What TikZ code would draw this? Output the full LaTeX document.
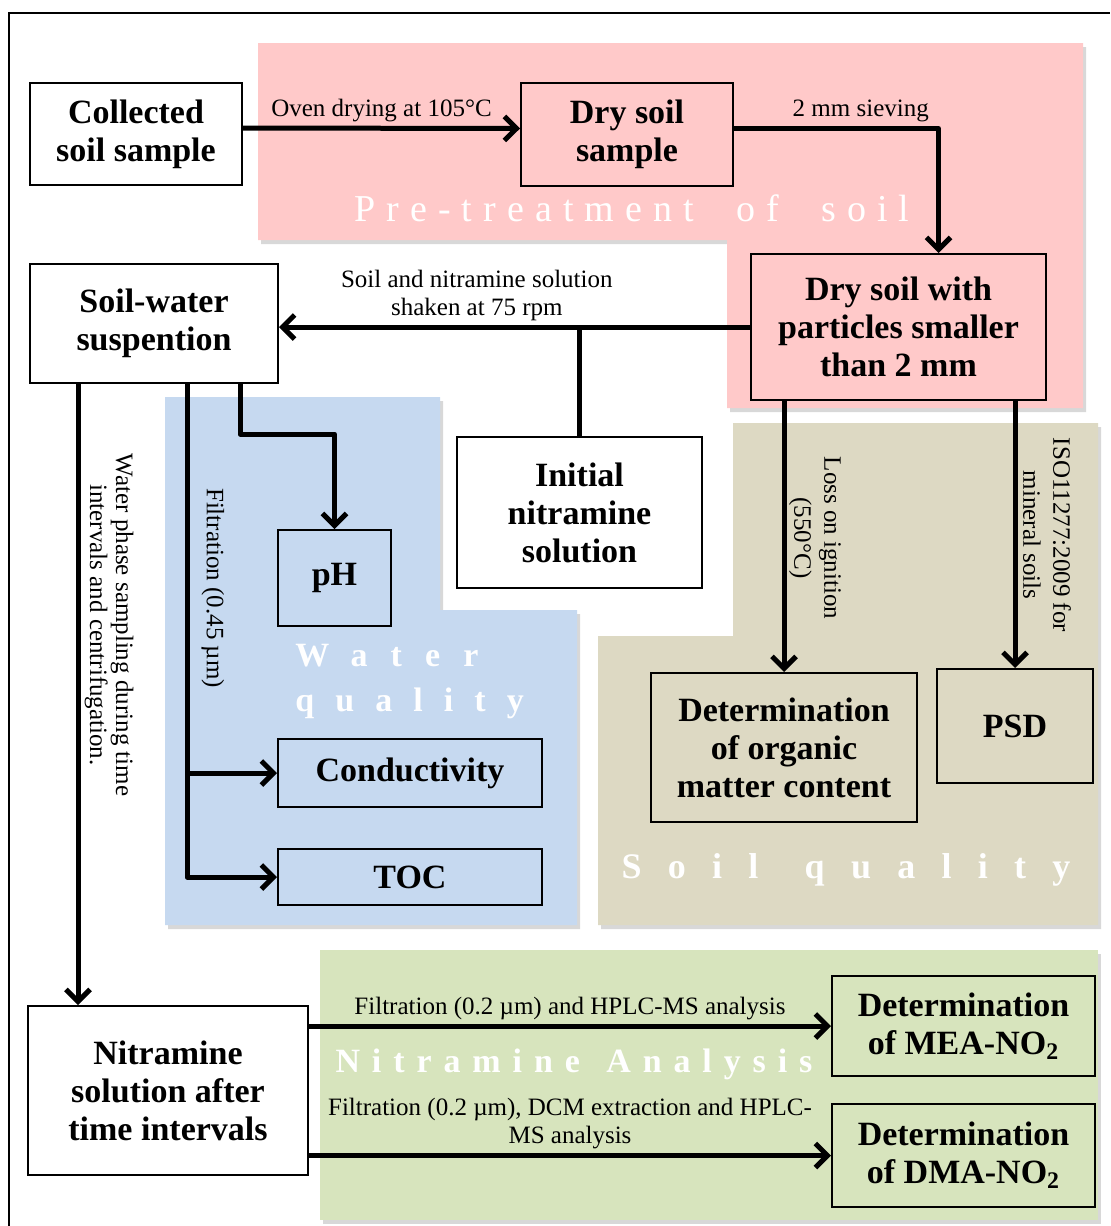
\documentclass[tikz,border=0pt]{standalone}
\usepackage{fontspec}
\setmainfont{Liberation Serif}
\usetikzlibrary{arrows.meta,shadows}
\definecolor{ptpink}{HTML}{FFC9C9}
\definecolor{wqblue}{HTML}{C6D9F0}
\definecolor{sqtan}{HTML}{DDD9C3}
\definecolor{nagreen}{HTML}{D7E4BD}
\tikzset{
  zone/.style={drop shadow={shadow xshift=1.5pt,shadow yshift=-2pt,opacity=.3}},
  stage/.style={draw=black,line width=1pt,fill=white,align=center,inner sep=0pt,
    font=\fontsize{17}{19}\selectfont\bfseries},
  flow/.style={-{Straight Barb[length=6pt,width=12pt]},line width=2.5pt,line join=round},
  link/.style={line width=2.5pt,line join=round},
  note/.style={font=\fontsize{12.5}{14}\selectfont,align=center,inner sep=2pt},
  zonetitle/.style={text=white,font=\fontsize{17}{22.5}\selectfont\bfseries,inner sep=0pt}
}
\newcommand{\spaced}[2]{{\addfontfeature{LetterSpace=#1}#2}}

\begin{document}
\begin{tikzpicture}[x=0.5pt,y=-0.5pt]
  \useasboundingbox (0,0) rectangle (1110,1226);
  \fill[white] (0,0) rectangle (1110,1226);
  \draw[line width=0.8pt] (9,1226) -- (9,13) -- (1110,13);
  % zones
  \fill[ptpink,zone] (258,43) -- (1083,43) -- (1083,408) -- (727,408) -- (727,240) -- (258,240) -- cycle;
  \fill[wqblue,zone] (165,397) -- (440,397) -- (440,610) -- (577,610) -- (577,925) -- (165,925) -- cycle;
  \fill[sqtan,zone] (733,423) -- (1098,423) -- (1098,925) -- (598,925) -- (598,636) -- (733,636) -- cycle;
  \fill[nagreen,zone] (320,950) -- (1098,950) -- (1098,1220) -- (320,1220) -- cycle;
  \node[zonetitle,font=\fontsize{19}{22}\selectfont] (pretitle) at (632,208) {\spaced{29}{Pre-treatment\hspace{11pt} of\hspace{11pt} soil}};
  \node[zonetitle,align=left,anchor=west] (wqtitle) at (295,682) {\spaced{68}{Water}\\\spaced{62}{quality}};
  \node[zonetitle,font=\fontsize{18}{22}\selectfont\bfseries] (sqtitle) at (846,870) {\spaced{73}{Soil\hspace{5.5pt} quality}};
  \node[zonetitle] (natitle) at (574,1064) {\spaced{35}{Nitramine\hspace{3pt} Analysis}};

  % boxes
  \node[stage,minimum width=106pt,minimum height=51pt] (collected) at (136,134) {Collected\\soil sample};
  \node[stage,fill=ptpink,minimum width=106pt,minimum height=51.5pt] (drysoil) at (627,134.5) {Dry soil\\sample};
  \node[stage,fill=ptpink,minimum width=147.5pt,minimum height=73pt] (sieved) at (898.5,327) {Dry soil with\\particles smaller\\than 2 mm};
  \node[stage,minimum width=124pt,minimum height=59.5pt] (suspension) at (154,323.5) {Soil-water\\suspention};
  \node[stage,minimum width=122.5pt,minimum height=75.5pt] (initial) at (579.5,512.5) {Initial\\nitramine\\solution};
  \node[stage,fill=wqblue,minimum width=56.5pt,minimum height=48pt] (ph) at (334.5,578) {pH};
  \node[stage,fill=wqblue,minimum width=132pt,minimum height=34pt] (cond) at (410,773) {Conductivity};
  \node[stage,fill=wqblue,minimum width=132pt,minimum height=28pt] (toc) at (410,877) {TOC};
  \node[stage,fill=sqtan,minimum width=133pt,minimum height=74.5pt] (organic) at (784,747.5) {Determination\\of organic\\matter content};
  \node[stage,fill=sqtan,minimum width=78pt,minimum height=57pt] (psd) at (1015,726) {PSD};
  \node[stage,minimum width=140pt,minimum height=84.5pt] (after) at (168,1090.5) {Nitramine\\solution after\\time intervals};
  \node[stage,fill=nagreen,minimum width=131.5pt,minimum height=50pt] (mea) at (963.5,1026) {Determination\\of MEA-NO\textsubscript{2}};
  \node[stage,fill=nagreen,minimum width=131.5pt,minimum height=51.5pt] (dma) at (963.5,1155.5) {Determination\\of DMA-NO\textsubscript{2}};

  \coordinate (samplex) at (78,0);
  \coordinate (filtx) at (187,0);
  \coordinate (phx) at (240,0);

  % connectors
  \draw[flow] ([yshift=3pt]collected.east) -- node[note,above,pos=.5] {Oven drying at 105°C} ([yshift=3pt]drysoil.west);
  \draw[flow] ([yshift=3pt]drysoil.east) -| node[note,above,pos=.31] {2 mm sieving} ([xshift=20pt]sieved.north);
  \draw[flow] (sieved.west) -- node[note,above,pos=.58] {Soil and nitramine solution\\shaken at 75 rpm} (sieved.west -| suspension.east);
  \draw[link] (initial.north |- sieved.west) -- (initial.north);
  \draw[flow] (suspension.south -| phx) -- ++(0,50) -| (ph.north);
  \draw[flow] (suspension.south -| filtx) |- (cond.west);
  \draw[flow] (suspension.south -| filtx) |- (toc.west);
  \draw[flow] (suspension.south -| samplex) -- (samplex |- after.north);
  \draw[flow] (sieved.south -| organic.north) -- (organic.north);
  \draw[flow] (sieved.south -| psd.north) -- (psd.north);
  \draw[flow] (after.east |- mea.west) -- node[note,above] {Filtration (0.2 µm) and HPLC-MS analysis} (mea.west);
  \draw[flow] (after.east |- dma.west) -- node[note,above] {Filtration (0.2 µm), DCM extraction and HPLC-\\MS analysis} (dma.west);

  % side labels
  \node[note,rotate=-90,font=\fontsize{12.5}{13}\selectfont] (samplelbl) at (109,625) {Water phase sampling during time\\intervals and centrifugation.};
  \node[note,rotate=-90] (filtlbl) at (213,588) {Filtration (0.45 µm)};
  \node[note,rotate=-90,font=\fontsize{12.5}{15}\selectfont] (losslbl) at (815,538) {Loss on ignition\\(550°C)};
  \node[note,rotate=-90,font=\fontsize{12.5}{15}\selectfont] (isolbl) at (1047,535) {ISO11277:2009 for\\mineral soils};
\end{tikzpicture}
\end{document}
